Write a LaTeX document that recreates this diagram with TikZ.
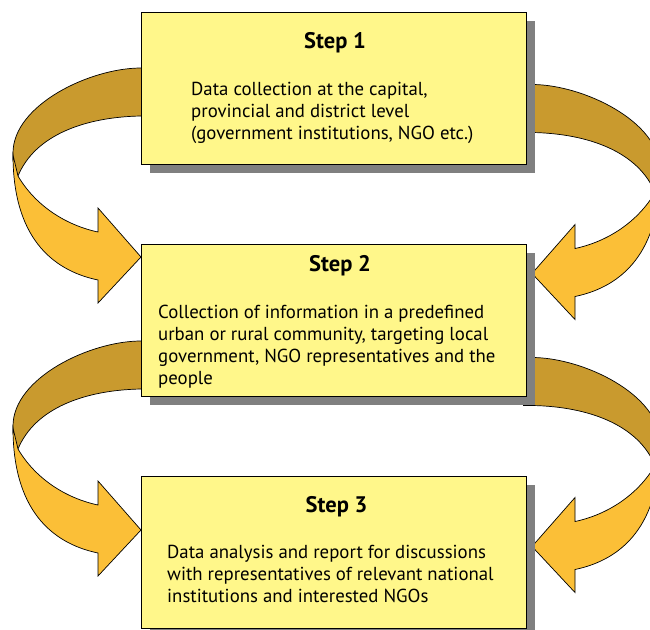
\documentclass[tikz,border=0pt]{standalone}
\usepackage{fontspec}
\setmainfont{PT Sans}
\usetikzlibrary{shadows}
\definecolor{boxfill}{HTML}{FFF78A}
\definecolor{arrdark}{HTML}{C99A2E}
\definecolor{arrlight}{HTML}{FBBF37}
\definecolor{shadowgray}{HTML}{808080}
\tikzset{
  stepbox/.style={draw=black, line width=0.8pt, fill=boxfill, minimum width=385pt, minimum height=152pt, inner sep=0pt,
    drop shadow={shadow xshift=8.5pt, shadow yshift=-8.5pt, fill=shadowgray, opacity=1}},
  backband/.style={fill=arrdark, draw=black, line width=0.7pt, line join=round},
  frontband/.style={fill=arrlight, draw=black, line width=0.7pt, line join=miter},
  titletext/.style={font=\fontsize{22.5}{26}\selectfont\bfseries, anchor=base, inner sep=0pt},
  bodytext/.style={font=\fontsize{18.8}{22}\selectfont, anchor=base west, inner sep=0pt},
}
\newcommand{\bentarrow}[1]{%
  \begin{scope}[#1]
    \draw[backband] (150,68) -- (141,68) .. controls (90,68) and (13,105) .. (13,153)
      -- (13,160) -- (18,176) .. controls (35,135) and (85,117) .. (141,116) -- (150,116);
    \draw[frontband] (13,155) .. controls (13,235) and (50,270) .. (98,280) -- (98,303)
      -- (141,257) -- (98,208) -- (98,232) .. controls (65,225) and (35,205) .. (18,176) -- cycle;
  \end{scope}}
\begin{document}
\begin{tikzpicture}[x=1pt,y=-1pt]
  \useasboundingbox (0,0) rectangle (650,629);
  \bentarrow{}
  \bentarrow{shift={(0,273)}}
  \bentarrow{shift={(673,16.5)},xscale=-1}
  \bentarrow{shift={(673,289.5)},xscale=-1}

  \node[stepbox] (b1) at (333.5,88) {};
  \node[stepbox] (b2) at (333.5,320) {};
  \node[stepbox] (b3) at (333.5,552) {};

  \node[titletext] (t1) at (335,48) {Step 1};
  \node[bodytext] (x1) at (191,95) {\parbox[t]{330pt}{\raggedright
    Data collection at the capital,\\
    provincial and district level\\
    (government institutions, NGO etc.)}};

  \node[titletext] (t2) at (340,271) {Step 2};
  \node[bodytext] (x2) at (158,318) {\parbox[t]{360pt}{\raggedright
    Collection of information in a predefined\\
    urban or rural community, targeting local\\
    government, NGO representatives and the\\
    people}};

  \node[titletext] (t3) at (336.5,512) {Step 3};
  \node[bodytext] (x3) at (167,558) {\parbox[t]{350pt}{\raggedright
    Data analysis and report for discussions\\
    with representatives of relevant national\\
    institutions and interested NGOs}};
\end{tikzpicture}
\end{document}
